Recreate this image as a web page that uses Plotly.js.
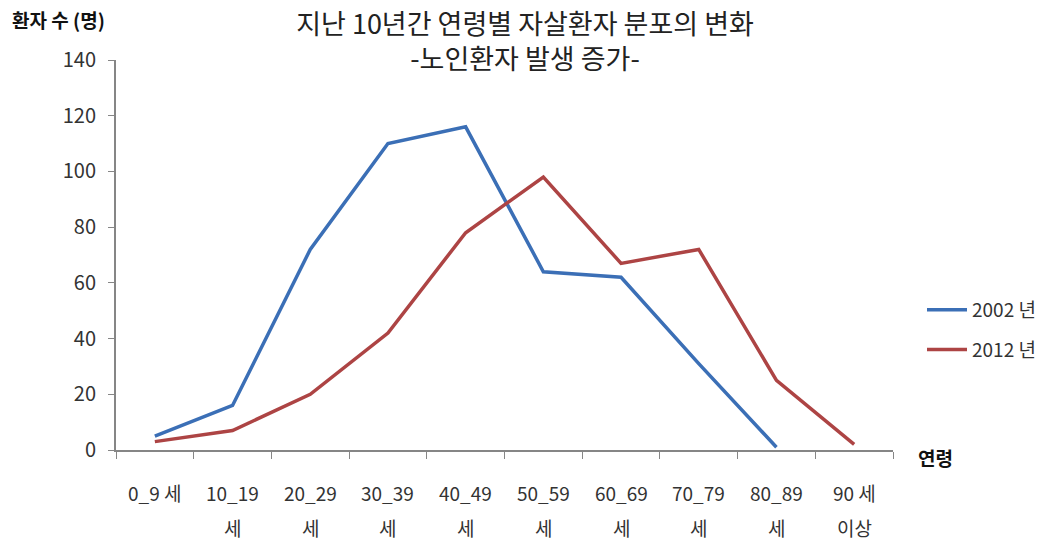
<!DOCTYPE html>
<html>
<head>
<meta charset="utf-8">
<script src="https://cdn.plot.ly/plotly-3.0.1.min.js"></script>
<style>html,body{margin:0;padding:0;background:#fff;}#chart{width:1050px;height:543px;}</style>
</head>
<body>
<div id="chart"></div>
<script>
var categories = ['0_9', '10_19', '20_29', '30_39', '40_49', '50_59', '60_69', '70_79', '80_89', '90+'];
var labelTop = ['0_9 세', '10_19', '20_29', '30_39', '40_49', '50_59', '60_69', '70_79', '80_89', '90 세'];
var labelBottom = ['', '세', '세', '세', '세', '세', '세', '세', '세', '이상'];
var values2002 = [5, 16, 72, 110, 116, 64, 62, 31, 1, null];
var values2012 = [3, 7, 20, 42, 78, 98, 67, 72, 25, 2];
var seriesNames = ['2002 년', '2012 년'];
var yTicks = [0, 20, 40, 60, 80, 100, 120, 140];

var FONT = '"Noto Sans CJK KR", "Noto Sans", sans-serif';
var TXT = '#333333';

var traces = [
  {x: categories, y: values2002, name: seriesNames[0], type: 'scatter', mode: 'lines', legendgroup: 'a',
   line: {color: '#3b6fb6', width: 3.5}, connectgaps: false},
  {x: categories, y: values2012, name: seriesNames[1], type: 'scatter', mode: 'lines', legendgroup: 'b',
   line: {color: '#ad4444', width: 3.5}}
];

var annotations = [];
categories.forEach(function (c, i) {
  annotations.push({x: c, xref: 'x', y: 0, yref: 'y', yshift: -42, text: labelTop[i],
    showarrow: false, font: {family: FONT, size: 19, color: TXT}, xanchor: 'center', yanchor: 'middle'});
  if (labelBottom[i]) {
    annotations.push({x: c, xref: 'x', y: 0, yref: 'y', yshift: -77, text: labelBottom[i],
      showarrow: false, font: {family: FONT, size: 19, color: TXT}, xanchor: 'center', yanchor: 'middle'});
  }
});
annotations.push({x: (10 - 116) / 777, xref: 'paper', y: (450 - 20) / 390, yref: 'paper', yanchor: 'middle', xanchor: 'left',
  text: '<b>환자 수 (명)</b>', showarrow: false, font: {family: FONT, size: 19, color: '#111'}});
annotations.push({x: (916 - 116) / 777, xref: 'paper', y: (450 - 457) / 390, yref: 'paper', yanchor: 'middle', xanchor: 'left',
  text: '<b>연령</b>', showarrow: false, font: {family: FONT, size: 19, color: '#111'}});

var layout = {
  width: 1050, height: 543,
  margin: {l: 116, r: 157, t: 60, b: 93, autoexpand: false},
  paper_bgcolor: '#fff', plot_bgcolor: '#fff',
  title: {text: '지난 10년간 연령별 자살환자 분포의 변화<br>-노인환자 발생 증가-', x: 0.5, xref: 'container',
          y: 1 - 34 / 543, yanchor: 'top', font: {family: FONT, size: 27, color: '#222'}},
  xaxis: {type: 'category', range: [-0.5, 9.5], tickson: 'boundaries', ticks: 'outside', ticklen: 7,
          tickcolor: '#868686', showline: true, linecolor: '#868686', linewidth: 2, showgrid: false,
          zeroline: false, showticklabels: false, fixedrange: true, automargin: false},
  yaxis: {range: [0, 140], tickvals: yTicks, ticks: 'outside', ticklen: 6, tickcolor: '#868686',
          showline: true, linecolor: '#868686', linewidth: 2, showgrid: false, zeroline: false,
          tickfont: {family: FONT, size: 20, color: TXT}, ticklabelstandoff: 8, fixedrange: true, automargin: false},
  showlegend: true,
  legend: {x: (922 - 116) / 777, xanchor: 'left', y: (450 - 330) / 390, yanchor: 'middle', xref: 'paper',
           font: {family: FONT, size: 19, color: TXT}, itemwidth: 40, traceorder: 'grouped', tracegroupgap: 12,
           bgcolor: 'rgba(0,0,0,0)'},
  annotations: annotations
};

Plotly.newPlot('chart', traces, layout, {displayModeBar: false, staticPlot: true});
</script>
</body>
</html>
